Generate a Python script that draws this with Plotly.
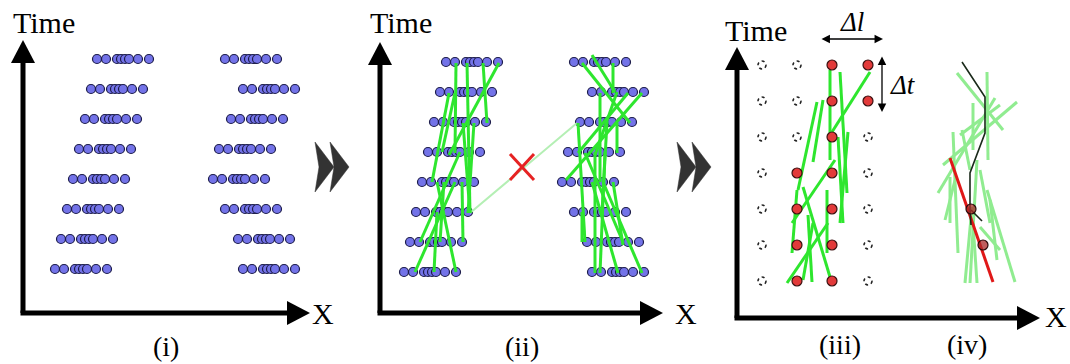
import plotly.graph_objects as go

# ---------------- data ----------------
# panel (i) dot rows (pixel space of the sketch)
row_y_i = [59, 89, 119, 149, 179, 209, 239, 269]
left_start_i = [97, 91, 85, 79, 73, 67, 61, 55]
right_start_i = [225, 243, 231, 219, 213, 225, 238, 243]
dot_pattern = [0, 9, 20, 24, 28, 32, 41, 52]
# panel (ii) is the same cloud moved right/down
shift_ii = (349, 3)

# green trajectory segments of panel (ii): x0, y0, x1, y1
seg_ii_left = [
    (456, 63, 455, 153), (467, 63, 470, 213), (483, 63, 487, 123),
    (499, 63, 449, 155), (449, 93, 432, 182), (455, 93, 442, 152),
    (463, 123, 470, 213), (474, 123, 468, 213), (460, 152, 420, 242),
    (437, 182, 456, 272), (455, 182, 415, 272), (437, 212, 434, 272),
    (462, 182, 463, 242), (444, 182, 440, 242),
]
seg_ii_right = [
    (582, 63, 630, 123), (592, 55, 615, 92), (613, 63, 613, 93),
    (642, 93, 566, 180), (628, 93, 578, 153), (600, 93, 600, 182),
    (617, 92, 595, 155), (578, 123, 585, 242), (617, 123, 617, 153),
    (585, 153, 623, 242), (595, 152, 595, 273), (605, 152, 600, 273),
    (603, 182, 642, 273), (613, 182, 623, 245), (592, 182, 618, 273),
    (582, 212, 582, 242), (607, 122, 602, 212),
]
rejected_link = (470, 213, 577, 123)
reject_mark = (522, 167)

# panel (iii) grid
grid_cols = [762, 797, 832, 868]
grid_rows = [65, 101, 137, 173, 209, 245, 281]
occupancy = ["..##", "..##", "..#.", ".##.", ".##.", ".##.", ".##."]
seg_iii = [
    (830, 70, 830, 160), (840, 72, 847, 193), (870, 72, 832, 132),
    (823, 100, 813, 162), (817, 102, 798, 190), (838, 137, 843, 223),
    (848, 132, 840, 223), (835, 160, 792, 223), (803, 187, 830, 277),
    (827, 190, 827, 253), (828, 223, 787, 283), (797, 190, 792, 253),
    (813, 223, 803, 280), (808, 215, 812, 282),
]

# panel (iv)
seg_iv = [
    (957, 73, 1003, 130), (987, 72, 988, 160), (1017, 102, 943, 165),
    (995, 98, 938, 193), (973, 103, 973, 150), (953, 132, 958, 253),
    (962, 130, 970, 170), (977, 160, 970, 283), (980, 170, 990, 223),
    (987, 190, 1015, 282), (972, 207, 965, 283), (950, 177, 950, 223),
    (980, 227, 1000, 250), (973, 223, 977, 283), (960, 135, 1000, 105),
    (945, 220, 955, 180), (990, 200, 997, 260),
]
path_x = [962, 985, 985, 970, 970, 971]
path_y = [62, 97, 133, 173, 210, 225]
branch = (971, 210, 982, 221)
red_track = (950, 158, 993, 282)
track_pts_x = [971, 983]
track_pts_y = [209, 245]

# axes: origin x, origin y, x tip, y tip
axes_def = [(23, 313, 310, 40), (380, 313, 663, 42), (737, 318, 1040, 47)]
chevron_x = [315, 677]
chevron_y = 167

labels = [
    ("Time", 44, 22, 30), ("Time", 401, 22, 30), ("Time", 756, 30, 30),
    ("X", 323, 313, 30), ("X", 686, 313, 30), ("X", 1056, 316, 30),
    ("(i)", 166, 346, 28), ("(ii)", 522, 346, 28),
    ("(iii)", 840, 344, 28), ("(iv)", 967, 344, 28),
]

# ---------------- build ----------------
fig = go.Figure()
shapes = []
annotations = []

SERIF = '"Liberation Serif", "Times New Roman", Times, serif'
GREEN = "#2ee62e"
LIGHT = "#90ec90"
DOT_FILL = "#7373e8"
DOT_LINE = "#1c1c4a"


def seg_trace(segs, color, width):
    xs, ys = [], []
    for x0, y0, x1, y1 in segs:
        xs += [x0, x1, None]
        ys += [y0, y1, None]
    return go.Scatter(x=xs, y=ys, mode="lines", line=dict(color=color, width=width),
                      hoverinfo="skip", showlegend=False)


# dots for panels (i) and (ii)
for dx, dy in [(0, 0), shift_ii]:
    xs, ys = [], []
    for r, y in enumerate(row_y_i):
        for start in (left_start_i[r], right_start_i[r]):
            for p in dot_pattern:
                xs.append(start + p + dx)
                ys.append(y + dy)
    fig.add_trace(go.Scatter(x=xs, y=ys, mode="markers",
                             marker=dict(size=9, color=DOT_FILL, line=dict(color=DOT_LINE, width=1.2)),
                             hoverinfo="skip", showlegend=False))

fig.add_trace(seg_trace([rejected_link], "#b4efb4", 2))
fig.add_trace(seg_trace(seg_ii_left + seg_ii_right, GREEN, 3))
cx, cy = reject_mark
fig.add_trace(seg_trace([(cx - 12, cy - 13, cx + 12, cy + 13), (cx - 12, cy + 13, cx + 12, cy - 13)], "#e62222", 3))

# panel (iii) grid
for ri, y in enumerate(grid_rows):
    for ci, x in enumerate(grid_cols):
        if occupancy[ri][ci] == ".":
            shapes.append(dict(type="circle", xref="x", yref="y", x0=x - 4, x1=x + 4,
                               y0=y - 4, y1=y + 4, line=dict(color="#222222", width=1.6, dash="dot")))
fig.add_trace(seg_trace(seg_iii, GREEN, 3))
rx, ry = [], []
for ri, y in enumerate(grid_rows):
    for ci, x in enumerate(grid_cols):
        if occupancy[ri][ci] == "#":
            rx.append(x)
            ry.append(y)
fig.add_trace(go.Scatter(x=rx, y=ry, mode="markers",
                         marker=dict(size=10, color="#e23a3a", line=dict(color="#3a1010", width=1.2)),
                         hoverinfo="skip", showlegend=False))

# panel (iv)
fig.add_trace(seg_trace(seg_iv, LIGHT, 3))
fig.add_trace(seg_trace([red_track], "#e01818", 3))
fig.add_trace(go.Scatter(x=path_x, y=path_y, mode="lines", line=dict(color="#1a2a1a", width=1.6),
                         hoverinfo="skip", showlegend=False))
fig.add_trace(seg_trace([branch], "#1a2a1a", 1.6))
fig.add_trace(go.Scatter(x=track_pts_x, y=track_pts_y, mode="markers",
                         marker=dict(size=10, color="rgba(170,40,40,0.75)", line=dict(color="#2a0a0a", width=1.2)),
                         hoverinfo="skip", showlegend=False))

# axes with arrowheads
for ox, oy, xt, yt in axes_def:
    L, H = 23, 12
    shapes.append(dict(type="line", xref="x", yref="y", x0=ox, y0=oy, x1=ox, y1=yt + L - 1,
                       line=dict(color="black", width=5)))
    shapes.append(dict(type="line", xref="x", yref="y", x0=ox - 2.5, y0=oy, x1=xt - L + 1, y1=oy,
                       line=dict(color="black", width=5)))
    shapes.append(dict(type="path", xref="x", yref="y",
                       path=f"M {ox - H},{yt + L} L {ox},{yt} L {ox + H},{yt + L} Z",
                       fillcolor="black", line=dict(color="black", width=0)))
    shapes.append(dict(type="path", xref="x", yref="y",
                       path=f"M {xt - L},{oy - H} L {xt},{oy} L {xt - L},{oy + H} Z",
                       fillcolor="black", line=dict(color="black", width=0)))

# chevrons between panels
for x0 in chevron_x:
    for k in (0, 15):
        a = x0 + k
        shapes.append(dict(type="path", xref="x", yref="y",
                           path=f"M {a},{chevron_y - 25} L {a + 19},{chevron_y} L {a},{chevron_y + 25} L {a + 4},{chevron_y} Z",
                           fillcolor="#333333", line=dict(color="#333333", width=0.5)))

# Δl and Δt dimension arrows
for (x0, y0, x1, y1) in [(820, 39, 883, 39), (882, 55, 882, 112)]:
    annotations.append(dict(x=x1, y=y1, ax=x0, ay=y0, xref="x", yref="y", axref="x", ayref="y",
                            text="", showarrow=True, arrowhead=2, arrowside="end+start",
                            arrowsize=1.3, arrowwidth=1.3, arrowcolor="black"))
annotations.append(dict(x=852, y=22, text="<i>Δl</i>", showarrow=False, xref="x", yref="y",
                        font=dict(family=SERIF, size=27, color="black")))
annotations.append(dict(x=903, y=85, text="<i>Δt</i>", showarrow=False, xref="x", yref="y",
                        font=dict(family=SERIF, size=27, color="black")))

for txt, x, y, s in labels:
    annotations.append(dict(x=x, y=y, text=txt, showarrow=False, xref="x", yref="y",
                            font=dict(family=SERIF, size=s, color="black")))

fig.update_layout(
    width=1070, height=364, margin=dict(l=0, r=0, t=0, b=0),
    paper_bgcolor="white", plot_bgcolor="white",
    font=dict(family=SERIF),
    xaxis=dict(range=[0, 1070], visible=False, fixedrange=True),
    yaxis=dict(range=[364, 0], visible=False, fixedrange=True),
    shapes=shapes, annotations=annotations, showlegend=False,
)

fig.write_html("out.html", config={"displayModeBar": False})
